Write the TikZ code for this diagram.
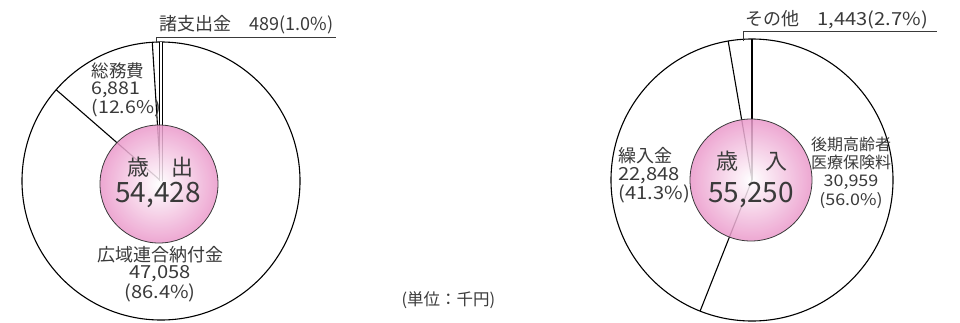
\documentclass[tikz,border=0pt]{standalone}
\usepackage{fontspec}
\setmainfont{Noto Sans CJK JP}
\newfontfamily\numfont[FakeStretch=1.12]{Noto Sans CJK JP}
\usepackage[dvipsnames]{xcolor}
\definecolor{ink}{HTML}{3A3A3A}
\definecolor{pinkedge}{RGB}{234,152,202}

\begin{document}
\begin{tikzpicture}[x=1bp,y=-1bp,line width=1bp,
    pie line/.style={draw=black,line width=1.1bp},
    leader/.style={draw=ink,line width=0.8bp},
    core/.style={shading=radial,inner color=white,outer color=pinkedge,fill opacity=0.85},
    main label/.style={text=ink,inner sep=0pt,font=\fontsize{18bp}{17.5bp}\selectfont,align=center},
    big label/.style={text=ink,inner sep=0pt,text height=20bp,text depth=0pt,font=\fontsize{28bp}{28bp}\selectfont},
    head label/.style={text=ink,inner sep=0pt,text height=17bp,text depth=2bp,font=\fontsize{22bp}{22bp}\selectfont}]
    \useasboundingbox (0,0) rectangle (960,322);

    % 歳出
    \coordinate (exp) at (161,181);
    \draw[pie line] (exp) circle (139);
    \draw[pie line] (exp) -- ++(221.04:139) coordinate (exp a);
    \draw[pie line] (exp) -- ++(266.4:139) coordinate (exp b);
    \draw[pie line,double,double distance=1.2bp] (exp) -- ++(-90:139) coordinate (exp c);
    \shade[core] (159,184) circle (59);
    \draw[ink,line width=0.8bp] (159,184) circle (59);

    \coordinate (exp tick) at (156,43);
    \coordinate (exp knee) at (156,37);
    \coordinate (exp end) at (336,37);
    \draw[leader] (exp tick) -- (exp knee) -- (exp end);
    \node[main label,anchor=base west] (misc) at (159,30) {諸支出金\quad 489(1.0\%)};

    \node[main label,align=left,anchor=west,font=\fontsize{17.5bp}{17bp}\selectfont] (admin) at (91,90) {総務費\\{\numfont 6,881}\\{\numfont (12.6\%)}};
    \node[main label] (union) at (160,274) {広域連合納付金\\{\numfont 47,058}\\{\numfont (86.4\%)}};
    \node[head label] (exp head) at (160,168) {歳\quad 出};
    \node[big label] (exp sum) at (158,192) {54,428};

    % 歳入
    \coordinate (rev) at (752,180);
    \draw[pie line] (rev) circle (141);
    \draw[pie line] (rev) -- ++(111.6:141) coordinate (rev a);
    \draw[pie line] (rev) -- ++(260.28:141) coordinate (rev b);
    \draw[pie line] (rev) -- ++(-90:141) coordinate (rev c);
    \shade[core] (751,180) circle (61);
    \draw[ink,line width=0.8bp] (751,180) circle (61);

    \coordinate (rev tick) at (743,41);
    \coordinate (rev knee) at (743,31);
    \coordinate (rev end) at (937,31);
    \draw[leader] (rev tick) -- (rev knee) -- (rev end);
    \node[main label,anchor=base west] (other) at (745,25) {その他\quad{\numfont 1,443(2.7\%)}};

    \node[main label,align=left,anchor=west,font=\fontsize{18bp}{18.5bp}\selectfont] (transfer) at (618,175) {繰入金\\{\numfont 22,848}\\{\numfont (41.3\%)}};
    \node[main label,font=\fontsize{16bp}{18.3bp}\selectfont] (premium) at (851,172.5) {後期高齢者\\医療保険料\\{\numfont 30,959}\\{\numfont (56.0\%)}};
    \node[head label] (rev head) at (752,162) {歳\hspace{27bp}入};
    \node[big label] (rev sum) at (751,192) {55,250};

    \node[main label,anchor=west,font=\fontsize{16.5bp}{16.5bp}\selectfont] (unit) at (401,300) {(単位：千円)};
\end{tikzpicture}
\end{document}
